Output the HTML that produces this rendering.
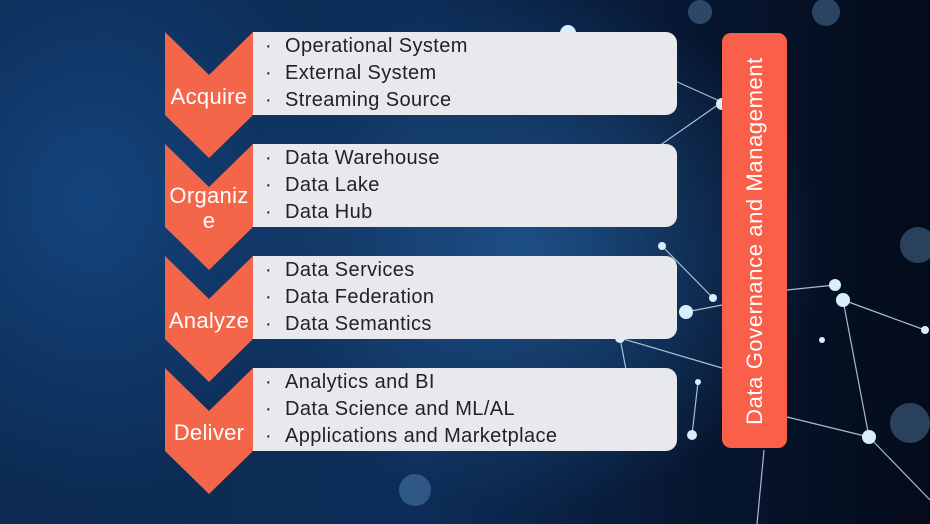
<!DOCTYPE html>
<html><head><style>
body{margin:0;width:930px;height:524px;overflow:hidden;font-family:"Liberation Sans",sans-serif;
background:radial-gradient(ellipse 300px 260px at 520px 250px,#1d4f86 0%,rgba(20,60,110,0) 100%),
radial-gradient(ellipse 260px 300px at 90px 200px,#14457e 0%,rgba(10,40,80,0) 100%),
linear-gradient(90deg,#0c2a52 0%,#0d2d58 45%,#071630 75%,#040b1a 100%);position:relative}
.ch{position:absolute;left:165px;width:88px;height:126px}
.lbl{position:absolute;left:160px;width:98px;text-align:center;color:#fff;font-size:22px;line-height:25px;letter-spacing:0.3px}
.p{position:absolute;left:253px;width:424px;height:83px;background:#e8e9ec;border-radius:0 11px 11px 0;color:#222;font-size:20px}
.p div{position:absolute;left:12px;height:27px;line-height:27px;letter-spacing:0.4px}
.p div span{display:inline-block;width:20px}
.g{position:absolute;left:722px;top:33px;width:65px;height:415px;background:#fa6049;border-radius:9px}
.g span{position:absolute;left:50%;top:50%;transform:translate(-50%,-50%) rotate(-90deg);white-space:nowrap;color:#fff;font-size:22px;letter-spacing:0.6px}
</style></head><body>
<svg style="position:absolute;left:0;top:0" width="930" height="524">
<g stroke="#cfe6f8" stroke-width="1.2" opacity="0.8" fill="none">
<line x1="568" y1="33" x2="722" y2="102"/><line x1="722" y1="102" x2="560" y2="215"/>
<line x1="662" y1="246" x2="713" y2="298"/><line x1="686" y1="312" x2="722" y2="305"/>
<line x1="620" y1="338" x2="722" y2="368"/><line x1="620" y1="338" x2="636" y2="422"/>
<line x1="787" y1="417" x2="869" y2="437"/><line x1="843" y1="300" x2="925" y2="330"/>
<line x1="843" y1="300" x2="869" y2="437"/><line x1="787" y1="290" x2="835" y2="285"/>
<line x1="869" y1="437" x2="930" y2="500"/><line x1="764" y1="450" x2="757" y2="524"/>
<line x1="698" y1="382" x2="692" y2="435"/>
</g>
<g fill="#d8eefc"><circle cx="568" cy="33" r="8"/><circle cx="722" cy="104" r="6"/><circle cx="686" cy="312" r="7"/>
<circle cx="713" cy="298" r="4"/><circle cx="662" cy="246" r="4"/><circle cx="620" cy="338" r="5"/><circle cx="843" cy="300" r="7"/>
<circle cx="835" cy="285" r="6"/><circle cx="869" cy="437" r="7"/><circle cx="925" cy="330" r="4"/><circle cx="822" cy="340" r="3"/>
<circle cx="692" cy="435" r="5"/><circle cx="698" cy="382" r="3"/><circle cx="636" cy="422" r="5"/><circle cx="560" cy="186" r="5"/></g>
<g fill="#6fa7d8" opacity="0.35"><circle cx="826" cy="12" r="14"/><circle cx="700" cy="12" r="12"/><circle cx="918" cy="245" r="18"/><circle cx="415" cy="490" r="16"/><circle cx="910" cy="423" r="20"/></g>
</svg>
<svg class="ch" style="top:32px" viewBox="0 0 88 126"><polygon points="0,0 44,43 88,0 88,83 44,126 0,83" fill="#f4664a"/></svg>
<svg class="ch" style="top:144px" viewBox="0 0 88 126"><polygon points="0,0 44,43 88,0 88,83 44,126 0,83" fill="#f4664a"/></svg>
<svg class="ch" style="top:256px" viewBox="0 0 88 126"><polygon points="0,0 44,43 88,0 88,83 44,126 0,83" fill="#f4664a"/></svg>
<svg class="ch" style="top:368px" viewBox="0 0 88 126"><polygon points="0,0 44,43 88,0 88,83 44,126 0,83" fill="#f4664a"/></svg>
<div class="lbl" style="top:84px">Acquire</div>
<div class="lbl" style="top:183px">Organiz<br>e</div>
<div class="lbl" style="top:308px">Analyze</div>
<div class="lbl" style="top:420px">Deliver</div>
<div class="p" style="top:32px"><div style="top:1px"><span>·</span>Operational System</div><div style="top:28px"><span>·</span>External System</div><div style="top:55px"><span>·</span>Streaming Source</div></div>
<div class="p" style="top:144px"><div style="top:1px"><span>·</span>Data Warehouse</div><div style="top:28px"><span>·</span>Data Lake</div><div style="top:55px"><span>·</span>Data Hub</div></div>
<div class="p" style="top:256px"><div style="top:1px"><span>·</span>Data Services</div><div style="top:28px"><span>·</span>Data Federation</div><div style="top:55px"><span>·</span>Data Semantics</div></div>
<div class="p" style="top:368px"><div style="top:1px"><span>·</span>Analytics and BI</div><div style="top:28px"><span>·</span>Data Science and ML/AL</div><div style="top:55px"><span>·</span>Applications and Marketplace</div></div>
<div class="g"><span>Data Governance and Management</span></div>
</body></html>
